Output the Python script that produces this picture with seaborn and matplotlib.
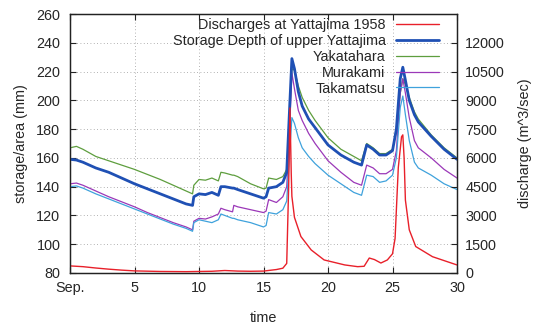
import numpy as np
import pandas as pd
import matplotlib
matplotlib.use("Agg")
import matplotlib.pyplot as plt
import seaborn as sns

# ---------------- data ----------------
days = [0, 0.5, 1, 2, 3, 4, 5, 6, 7, 8, 9, 9.5, 9.6, 10, 10.5, 11, 11.5, 11.7,
        12, 12.6, 12.7, 13, 14, 15, 15.2, 15.4, 16, 16.5, 16.8, 17.0, 17.2,
        17.4, 17.7, 18, 18.5, 19, 20, 21, 22, 22.6, 23.0, 23.5, 24, 24.5, 25.0,
        25.3, 25.6, 25.8, 26.0, 26.3, 26.7, 27, 28, 29, 30]

storage_upper = [159, 158.5, 157, 153, 150, 146, 142, 138.5, 135, 131.5, 128, 127,
                 133, 135, 134.5, 136, 134, 140, 140, 139, 139, 138, 135, 132, 133,
                 139, 140, 143, 150, 190, 229, 222, 206, 196, 187, 181, 169, 162,
                 157, 155, 169, 166, 162, 162, 165, 180, 215, 223, 214, 200, 190,
                 185, 175, 166, 159]

yakatahara = [167, 168, 166, 161, 158, 155, 152, 148.5, 145, 141, 137, 135,
              141, 145, 144.5, 146, 144, 150, 149.5, 148, 148, 147, 142, 138.5, 139,
              146, 145, 147, 152, 185, 222, 221, 210, 202, 193, 186, 174, 166,
              161, 158, 170, 167, 163, 163, 166, 178, 205, 215, 211, 202, 192,
              187, 176, 167, 160]

murakami = [142, 142.5, 141, 137, 133, 129.5, 126, 122, 118.5, 115, 112, 110,
            116, 118, 117.5, 119, 121, 125, 124, 122.5, 127, 126, 124, 122, 123,
            131, 129, 133, 140, 175, 219, 208, 193, 186, 177, 170, 158, 150,
            143, 141, 155, 153, 149, 149, 152, 165, 205, 215, 205, 188, 172,
            167, 160, 152, 146]

takamatsu = [140, 140.5, 139, 135, 131.5, 128, 124.5, 121, 117.5, 114, 111, 109,
             115, 117, 116, 115, 117, 121, 120, 118, 118, 117, 115, 112, 113,
             122, 121, 124, 130, 160, 188, 184, 174, 167, 161, 156, 148, 142,
             136, 134, 148, 147, 143, 144, 148, 160, 195, 203, 190, 172, 157,
             153, 148, 142, 138]

q_days = [0, 1, 2, 3, 4, 5, 7, 9, 10, 11, 12, 13, 14, 15, 16, 16.5, 16.8, 16.95,
          17.05, 17.15, 17.2, 17.4, 17.9, 18.7, 19.7, 21.3, 22.3, 22.8, 23.2, 23.6,
          24.1, 24.6, 25.0, 25.2, 25.45, 25.7, 25.8, 25.9, 26.0, 26.3, 26.8, 28.1,
          29.6, 30]
discharge = [370, 330, 260, 200, 150, 110, 80, 70, 80, 90, 130, 100, 90, 100, 180,
             250, 500, 4500, 8600, 5200, 4000, 2900, 1900, 1200, 680, 420, 330, 350,
             780, 700, 520, 680, 1000, 1800, 5500, 7100, 7200, 6000, 3800, 2250, 1380,
             850, 510, 420]

x_ticks = [0, 5, 10, 15, 20, 25, 30]
x_labels = ["Sep.", "5", "10", "15", "20", "25", "30"]
y_ticks = [80, 100, 120, 140, 160, 180, 200, 220, 240, 260]
y2_ticks = [0, 1500, 3000, 4500, 6000, 7500, 9000, 10500, 12000]

labels = ["Discharges at Yattajima 1958", "Storage Depth of upper Yattajima",
          "Yakatahara", "Murakami", "Takamatsu"]
colors = ["#e8202a", "#1f50b4", "#5e9e3e", "#9b38b8", "#3fa2dc"]

# ---------------- style ----------------
sns.set_theme(style="white")
plt.rcParams['font.family'] = ['Liberation Sans', 'DejaVu Sans']
FS = 10.4

fig = plt.figure(figsize=(5.34, 3.25), dpi=100)
ax = fig.add_axes([70/534, 1-273/325, (457-70)/534, (273-14)/325])
ax2 = ax.twinx()

storage_df = pd.DataFrame({"time": days, "upper": storage_upper,
                           "yak": yakatahara, "mur": murakami, "tak": takamatsu})
q_df = pd.DataFrame({"time": q_days, "q": discharge})

sns.lineplot(data=storage_df, x="time", y="upper", ax=ax, color=colors[1], lw=2.0, zorder=4)
sns.lineplot(data=storage_df, x="time", y="yak", ax=ax, color=colors[2], lw=0.9, zorder=3)
sns.lineplot(data=storage_df, x="time", y="mur", ax=ax, color=colors[3], lw=0.9, zorder=3)
sns.lineplot(data=storage_df, x="time", y="tak", ax=ax, color=colors[4], lw=0.9, zorder=3)
sns.lineplot(data=q_df, x="time", y="q", ax=ax2, color=colors[0], lw=1.0)

ax.set_xlim(0, 30)
ax.set_ylim(80, 260)
ax2.set_ylim(0, 13500)
ax.set_xticks(x_ticks)
ax.set_xticklabels(x_labels)
ax.set_yticks(y_ticks)
ax2.set_yticks(y2_ticks)
ax2.set_yticklabels([str(v) for v in y2_ticks])

ax.grid(True, linestyle=(0, (1, 3)), color="#999999", lw=0.6)
ax.set_axisbelow(True)

for a in (ax, ax2):
    for s in a.spines.values():
        s.set_color("#222222")
        s.set_linewidth(0.9)

ax.tick_params(axis="x", direction="in", length=4, width=0.8, color="#222222",
               labelsize=FS, pad=6, top=True, bottom=True, labeltop=False)
ax.tick_params(axis="y", direction="in", length=4, width=0.8, color="#222222",
               labelsize=FS, pad=7, left=True, right=False)
ax2.tick_params(axis="y", direction="in", length=4, width=0.8, color="#222222",
                labelsize=FS, pad=6, right=True)

ax.set_xlabel("time", fontsize=FS, labelpad=11)
ax.set_ylabel("storage/area (mm)", fontsize=FS, labelpad=6)
ax2.set_ylabel("discharge (m^3/sec)", fontsize=FS, labelpad=9, rotation=90)

handles = [ax2.lines[0], ax.lines[0], ax.lines[1], ax.lines[2], ax.lines[3]]
leg = ax2.legend(handles, labels, loc="upper right",
                 bbox_to_anchor=((439-70)/387, (273-18)/259),
                 frameon=False, markerfirst=False, fontsize=FS,
                 handlelength=3.0, handletextpad=0.7, labelspacing=0.13,
                 borderpad=0, borderaxespad=0)
try:
    for c in leg._legend_box._children[-1]._children:
        c.align = "right"
except Exception:
    pass

fig.savefig("out.png", dpi=100)
